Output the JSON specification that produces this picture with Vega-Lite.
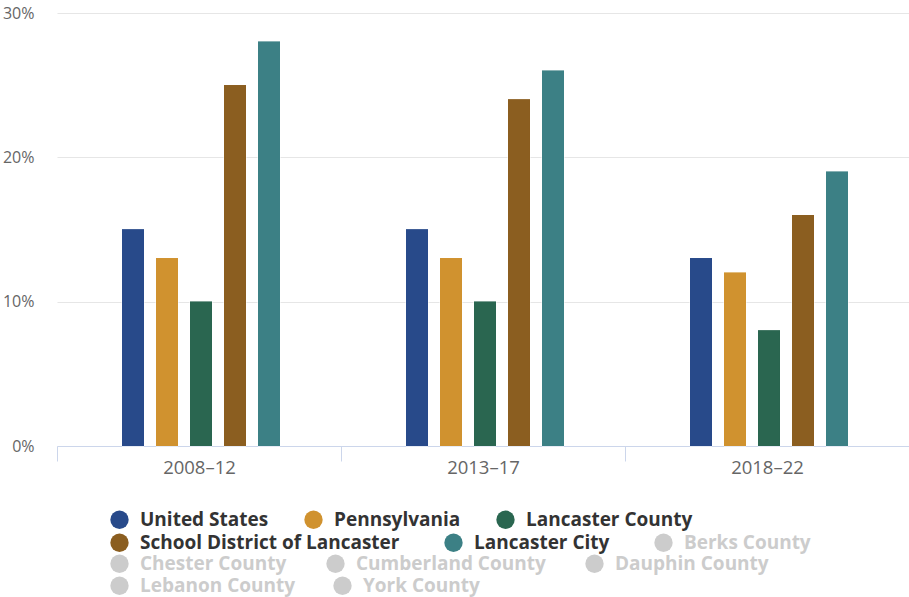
{
  "$schema": "https://vega.github.io/schema/vega-lite/v6.json",
  "autosize": "none",
  "width": 852,
  "height": 433,
  "padding": {"left": 57, "top": 13, "right": 0, "bottom": 151},
  "background": "#ffffff",
  "data": {
    "values": [
      {"period": "2008–12", "series": "United States", "value": 0.15},
      {"period": "2008–12", "series": "Pennsylvania", "value": 0.13},
      {"period": "2008–12", "series": "Lancaster County", "value": 0.10},
      {"period": "2008–12", "series": "School District of Lancaster", "value": 0.25},
      {"period": "2008–12", "series": "Lancaster City", "value": 0.28},
      {"period": "2013–17", "series": "United States", "value": 0.15},
      {"period": "2013–17", "series": "Pennsylvania", "value": 0.13},
      {"period": "2013–17", "series": "Lancaster County", "value": 0.10},
      {"period": "2013–17", "series": "School District of Lancaster", "value": 0.24},
      {"period": "2013–17", "series": "Lancaster City", "value": 0.26},
      {"period": "2018–22", "series": "United States", "value": 0.13},
      {"period": "2018–22", "series": "Pennsylvania", "value": 0.12},
      {"period": "2018–22", "series": "Lancaster County", "value": 0.08},
      {"period": "2018–22", "series": "School District of Lancaster", "value": 0.16},
      {"period": "2018–22", "series": "Lancaster City", "value": 0.19}
    ]
  },
  "encoding": {
    "x": {
      "field": "period",
      "type": "nominal",
      "sort": null,
      "scale": {"paddingInner": 0, "paddingOuter": 0},
      "axis": {
        "title": null,
        "labelAngle": 0,
        "labelFont": "Open Sans",
        "labelFontSize": 18.5,
        "labelColor": "#666666",
        "labelPadding": -3,
        "tickBand": "extent",
        "tickSize": 15,
        "tickColor": "#ccd6eb",
        "domainColor": "#ccd6eb",
        "grid": false
      }
    },
    "xOffset": {
      "field": "series",
      "type": "nominal",
      "sort": ["United States", "Pennsylvania", "Lancaster County", "School District of Lancaster", "Lancaster City"],
      "scale": {"range": [65, 223], "paddingInner": 0.353, "paddingOuter": 0}
    },
    "y": {
      "field": "value",
      "type": "quantitative",
      "scale": {"domain": [0, 0.3], "nice": false},
      "axis": {
        "title": null,
        "format": ".0%",
        "values": [0, 0.1, 0.2, 0.3],
        "labelFont": "Open Sans",
        "labelFontSize": 16,
        "labelColor": "#666666",
        "labelPadding": 23,
        "ticks": false,
        "domain": false,
        "gridColor": "#e6e6e6",
        "gridWidth": 1.2
      }
    }
  },
  "layer": [
    {
      "mark": {"type": "bar", "stroke": "#ffffff", "strokeWidth": 1},
      "encoding": {
        "color": {
          "field": "series",
          "type": "nominal",
          "scale": {
            "domain": ["United States", "Pennsylvania", "Lancaster County", "School District of Lancaster", "Lancaster City", "Berks County", "Chester County", "Cumberland County", "Dauphin County", "Lebanon County", "York County"],
            "range": ["#284a8a", "#d0922f", "#2a6650", "#8b5e20", "#3c8085", "#cccccc", "#cccccc", "#cccccc", "#cccccc", "#cccccc", "#cccccc"]
          },
          "legend": {
            "title": null, "orient": "none", "legendX": 53, "legendY": 497,
            "direction": "horizontal",
            "values": ["United States", "Pennsylvania", "Lancaster County"],
            "symbolType": "circle", "symbolSize": 336, "symbolStrokeWidth": 0,
            "labelFont": "Open Sans", "labelFontSize": 19, "labelFontWeight": "bold",
            "labelColor": "#333333", "labelOffset": 11, "columnPadding": 35, "labelLimit": 400
          }
        }
      }
    },
    {
      "mark": {"type": "bar"},
      "encoding": {
        "color": {
          "field": "series",
          "type": "nominal",
          "scale": {
            "domain": ["United States", "Pennsylvania", "Lancaster County", "School District of Lancaster", "Lancaster City", "Berks County", "Chester County", "Cumberland County", "Dauphin County", "Lebanon County", "York County"],
            "range": ["#284a8a", "#d0922f", "#2a6650", "#8b5e20", "#3c8085", "#cccccc", "#cccccc", "#cccccc", "#cccccc", "#cccccc", "#cccccc"]
          },
          "legend": {
            "title": null, "orient": "none", "legendX": 53, "legendY": 520,
            "direction": "horizontal",
            "values": ["School District of Lancaster", "Lancaster City", "Berks County"],
            "symbolType": "circle", "symbolSize": 336, "symbolStrokeWidth": 0,
            "labelFont": "Open Sans", "labelFontSize": 19, "labelFontWeight": "bold",
            "labelColor": "#333333", "labelOffset": 11, "columnPadding": 44, "labelLimit": 400,
            "encode": {
              "labels": {
                "update": {
                  "fill": {"signal": "datum.value === 'Berks County' ? '#cccccc' : '#333333'"}
                }
              }
            }
          }
        }
      }
    },
    {
      "mark": {"type": "bar"},
      "encoding": {
        "color": {
          "field": "series",
          "type": "nominal",
          "scale": {
            "domain": ["United States", "Pennsylvania", "Lancaster County", "School District of Lancaster", "Lancaster City", "Berks County", "Chester County", "Cumberland County", "Dauphin County", "Lebanon County", "York County"],
            "range": ["#284a8a", "#d0922f", "#2a6650", "#8b5e20", "#3c8085", "#cccccc", "#cccccc", "#cccccc", "#cccccc", "#cccccc", "#cccccc"]
          },
          "legend": {
            "title": null, "orient": "none", "legendX": 53, "legendY": 541,
            "direction": "horizontal",
            "values": ["Chester County", "Cumberland County", "Dauphin County"],
            "symbolType": "circle", "symbolSize": 336, "symbolStrokeWidth": 0,
            "labelFont": "Open Sans", "labelFontSize": 19, "labelFontWeight": "bold",
            "labelColor": "#cccccc", "labelOffset": 11, "columnPadding": 39, "labelLimit": 400
          }
        }
      }
    },
    {
      "mark": {"type": "bar"},
      "encoding": {
        "color": {
          "field": "series",
          "type": "nominal",
          "scale": {
            "domain": ["United States", "Pennsylvania", "Lancaster County", "School District of Lancaster", "Lancaster City", "Berks County", "Chester County", "Cumberland County", "Dauphin County", "Lebanon County", "York County"],
            "range": ["#284a8a", "#d0922f", "#2a6650", "#8b5e20", "#3c8085", "#cccccc", "#cccccc", "#cccccc", "#cccccc", "#cccccc", "#cccccc"]
          },
          "legend": {
            "title": null, "orient": "none", "legendX": 53, "legendY": 563,
            "direction": "horizontal",
            "values": ["Lebanon County", "York County"],
            "symbolType": "circle", "symbolSize": 336, "symbolStrokeWidth": 0,
            "labelFont": "Open Sans", "labelFontSize": 19, "labelFontWeight": "bold",
            "labelColor": "#cccccc", "labelOffset": 11, "columnPadding": 37, "labelLimit": 400
          }
        }
      }
    }
  ],
  "resolve": {"scale": {"color": "independent"}, "legend": {"color": "independent"}},
  "config": {"view": {"stroke": null}}
}
